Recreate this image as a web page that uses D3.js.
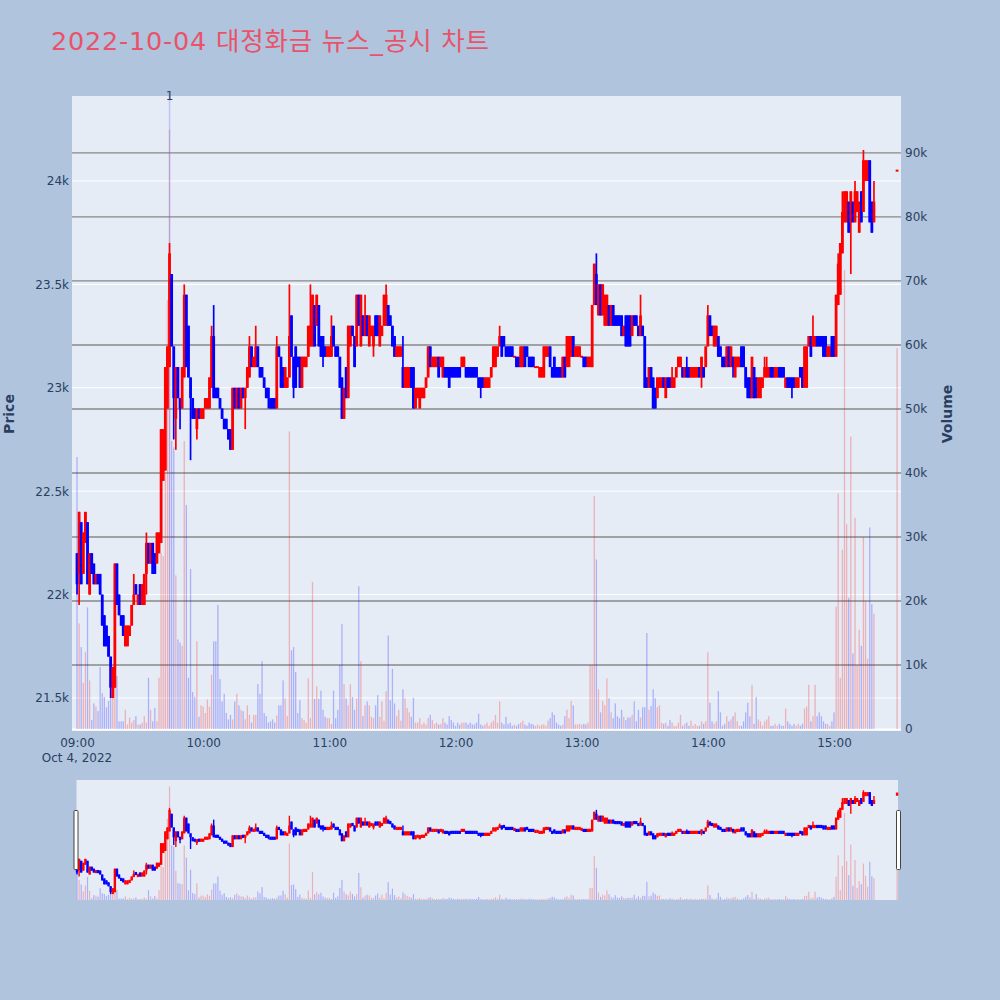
<!DOCTYPE html>
<html><head><meta charset="utf-8">
<script src="https://cdn.jsdelivr.net/npm/d3@7"></script>
<style>body{margin:0;background:#b0c4de;}svg{display:block;}</style>
</head><body>
<svg id="c" width="1000" height="1000"></svg>
<script>
const chartTitle = "2022-10-04 대정화금 뉴스_공시 차트";
const sessionStart = "2022-10-04 09:00";
// one candle per minute from 09:00 (index = minute offset)
const opens = [
22200,22100,22350,22100,22250,22350,22000,22200,22150,22050,
22100,22100,22000,21900,21850,21800,21700,21500,21550,22150,
22000,21900,21900,21750,21750,21800,21850,21950,22050,21950,
22050,21950,21950,22100,22250,22150,22250,22200,22150,22200,
22250,22550,22600,22900,23100,23550,23200,22850,23100,22950,
22900,23050,23450,23300,23050,22950,22900,22800,22900,22850,
22850,22900,22900,22900,23000,23250,23000,23000,22950,22900,
22850,22850,22800,22800,22700,23000,22900,23000,22900,23000,
22950,23000,23050,23200,23100,23100,23200,23100,23100,23050,
23000,23000,22950,22950,22950,22900,23200,23150,23100,23000,
23000,23050,23350,23150,23200,23150,23150,23000,23100,23100,
23150,23200,23200,23400,23300,23400,23250,23250,23200,23150,
23150,23150,23300,23200,23200,23150,23050,22850,23100,22950,
23200,23300,23250,23200,23450,23200,23350,23250,23350,23200,
23250,23200,23350,23350,23200,23250,23300,23300,23400,23350,
23300,23250,23150,23150,23150,23100,23000,23000,23000,23100,
23100,22900,22950,22900,22950,22950,23000,23050,23200,23100,
23100,23100,23150,23100,23050,23100,23100,23100,23100,23100,
23100,23100,23100,23100,23100,23100,23100,23100,23100,23100,
23100,23050,23050,23050,23000,23000,23000,23050,23100,23100,
23150,23200,23250,23250,23200,23200,23200,23200,23150,23150,
23150,23100,23100,23200,23200,23150,23150,23150,23100,23100,
23050,23050,23050,23150,23150,23200,23100,23150,23100,23100,
23100,23050,23150,23100,23100,23150,23250,23150,23150,23150,
23150,23150,23150,23100,23100,23100,23400,23550,23350,23500,
23350,23300,23300,23400,23300,23400,23350,23350,23350,23350,
23250,23350,23350,23350,23250,23350,23350,23300,23250,23300,
23250,23050,23000,23100,23050,23000,22950,23000,23000,23050,
22950,23050,23050,23000,23000,23050,23100,23100,23100,23050,
23100,23100,23050,23050,23050,23050,23100,23050,23100,23100,
23200,23350,23300,23200,23200,23250,23200,23150,23150,23100,
23200,23100,23150,23050,23100,23100,23200,23200,23100,23050,
23050,22950,23100,23050,22950,22950,23000,23050,23050,23050,
23100,23100,23050,23050,23100,23100,23100,23000,23050,23050,
23050,23050,23000,23000,23100,23100,23000,23000,23200,23250,
23200,23200,23250,23250,23250,23250,23250,23150,23150,23250,
23250,23150,23400,23450,23650,23800,23800,23900,23800,23900,
23800,23850,23750,23950,23850,24000,24000,24100,23900,23800];
const closes = [
22050,22400,22050,22300,22400,22050,22200,22100,22050,22100,
22050,22000,21850,21750,21750,21700,21550,21650,22150,21950,
21900,21850,21800,21850,21850,21850,21950,22000,22000,22000,
21950,22050,22100,22250,22150,22250,22100,22100,22300,22300,
22800,22800,23100,23200,23650,23200,22950,23100,22950,22900,
23100,23450,23100,23050,22950,22850,22850,22900,22850,22900,
22900,22950,22950,23050,23250,22950,22950,22950,22900,22850,
22800,22800,22750,22700,23000,22900,23000,22900,23000,22950,
23000,23100,23200,23100,23150,23200,23100,23050,23050,23000,
22950,22950,22900,22900,22900,23200,23150,23000,23000,23100,
23050,23250,23150,23000,23000,23100,23000,23150,23150,23150,
23300,23300,23450,23200,23450,23200,23150,23150,23150,23200,
23200,23250,23200,23150,23150,23000,22850,23000,22950,23300,
23300,23250,23100,23450,23300,23450,23250,23350,23250,23350,
23300,23300,23250,23250,23350,23300,23450,23450,23300,23300,
23200,23150,23200,23200,23200,23000,23100,23100,23100,23000,
22900,23000,23000,23000,23000,23000,23050,23200,23100,23150,
23150,23150,23050,23150,23150,23050,23050,23000,23050,23050,
23050,23050,23050,23150,23150,23050,23050,23050,23050,23050,
23050,23000,23000,23000,23050,23050,23050,23100,23200,23200,
23200,23250,23150,23200,23150,23150,23150,23150,23150,23100,
23100,23200,23200,23100,23150,23100,23100,23100,23100,23100,
23100,23100,23200,23200,23200,23100,23050,23050,23050,23050,
23050,23150,23050,23250,23250,23250,23150,23200,23200,23200,
23150,23100,23100,23150,23150,23400,23600,23400,23500,23350,
23500,23450,23450,23300,23400,23300,23300,23300,23300,23250,
23300,23200,23200,23200,23350,23300,23300,23250,23350,23250,
23000,23000,23100,23000,22900,22900,23050,23050,23050,23000,
23050,23000,23000,23050,23050,23100,23150,23150,23050,23100,
23050,23050,23100,23100,23100,23100,23050,23150,23050,23200,
23350,23250,23250,23300,23300,23150,23150,23100,23100,23200,
23100,23200,23100,23150,23150,23150,23100,23100,23000,22950,
22950,23150,22950,22950,23050,23050,23050,23100,23100,23100,
23050,23050,23100,23100,23050,23050,23050,23050,23000,23000,
23000,23000,23050,23050,23050,23000,23200,23200,23250,23150,
23250,23250,23200,23200,23200,23150,23150,23200,23200,23150,
23150,23450,23600,23700,23850,23950,23950,23750,23950,23800,
23950,23950,23900,23800,24100,24100,24100,23800,23750,23900];
// wicks that reach beyond the body: [minute index, price]
const wickHighs = [[27,22100],[33,22300],[44,23700],[51,23500],[64,23300],[65,23400],[82,23250],[85,23300],
 [95,23250],[101,23500],[111,23500],[121,23350],[137,23450],[147,23500],[155,23250],[201,23300],[247,23650],
 [268,23450],[283,23100],[290,23150],[300,23400],[327,23150],[328,23150],[350,23350],[362,23650],[364,23950],
 [370,24000],[374,24150],[379,24000]];
const wickLows = [[0,22000],[1,21950],[16,21500],[33,22000],[46,22750],[47,22700],[49,22800],[54,22650],[57,22750],
 [80,22800],[91,22900],[103,22950],[117,23100],[141,23150],[192,22950],[297,23000],[312,23050],[340,22950],[368,23550]];
// volume per minute, thousands of shares
const volumesK = [
42.5,16.5,12.8,7.2,12,19,7.6,1.4,4,3.5,
2.8,9.7,5.6,5,3.4,4.4,5,5,10.3,8.3,
1.2,1.2,1.2,3,0.7,1.8,1,1.4,2,0.7,
0.7,1,2,1,8,3,1.2,3.3,1.2,8,
27.5,27,40,67,93.6,45,44,24,14,13.5,
13,45,35,8,25,5.8,5,13.7,1.9,3.7,
3.5,2.5,4.6,3.5,8.5,13.7,13.7,19.4,7.8,4.3,
5.5,2.5,1.5,2.2,1.5,4.3,5.5,3.7,3,2.8,
1.5,3.7,2.2,1,2.2,2.2,7,5.5,10.6,2.5,
2,1,1.2,1.5,1,2.1,3.7,3.7,7.6,4.8,
2,46.5,12.3,12.8,8.9,2.5,4.5,1.7,1.4,1,
7.9,1.7,23,4.7,6.7,4.7,6,3,1.9,1.7,
1.7,0.8,6,1.7,3,10,16.4,7,4.8,3.7,
7,5,3,4.8,22.3,10.6,2,3.7,4.3,3.7,
1.9,1.7,3.7,5.3,1.9,4.3,1.3,5.9,14.6,4.5,
9.4,4,2,3,1.3,6.2,4.8,3.3,2.6,1.9,
4.9,1,1,1.7,0.7,1,0.7,1.7,2.2,1.4,
0.8,1,0.7,0.8,1.7,1,0.7,2,1.4,1,
0.5,1,0.7,1,1,1,0.7,1,0.7,0.7,
1,2.4,0.7,0.5,0.7,1,0.5,1,1.3,2.2,
1,4.3,1,0.7,1.9,0.8,1,0.5,0.7,0.5,
0.8,1,1.3,0.7,0.5,1,0.8,0.7,0.5,0.7,
0.5,0.7,0.7,0.5,1.3,1.7,2.6,2.2,1,0.7,
0.5,0.7,2,3,1.7,4.4,3.7,0.7,0.7,0.8,
0.7,0.8,0.7,1,10,10,36.4,26.5,6.2,2.6,
4.4,3.7,7.9,4.8,2.6,1.7,4,2,1.7,3,
1.9,1.4,1.8,1.8,2.2,4.3,1.2,3,1.8,3.4,
3.4,15,3,3.6,6.2,4.8,3.4,3.7,1,0.8,
1,0.5,1.4,1,0.5,0.5,1,2.2,0.5,0.8,
1,0.5,1.3,0.5,0.8,0.5,0.5,1.2,0.8,1.2,
12,4.1,1.2,0.8,1.2,5.9,2.6,0.5,0.8,2,
1.2,1.5,2,2.6,1.2,0.5,0.5,1.2,2.6,4.1,
2,6.9,0.8,5,1.5,1.2,0.5,1.2,1.5,2,
0.5,0.5,0.8,0.5,0.8,0.5,0.5,3.2,1.2,0.8,
0.5,0.8,0.5,0.8,0.5,0.8,3.2,3.5,6.9,1.2,
2,6.9,2,2.6,2,1.2,0.8,0.8,0.5,1.2,
2.6,19.1,36.8,8,28,71.7,32,20.5,45.7,11.8,
33,10,15.5,13,30,20,11,31.5,19.5,18];
// closing single-price auction
const auctionTime = "2022-10-04 15:30";
const auctionPrice = 24050;
const auctionVolumeK = 59.5;
// news / disclosure markers
const newsTimes = ["2022-10-04 09:44"];
const newsLabels = ["1"];
// axes
const priceTicks = [21500,22000,22500,23000,23500,24000];
const volumeTicks = [0,10000,20000,30000,40000,50000,60000,70000,80000,90000];
const hourTicks = ["09:00","10:00","11:00","12:00","13:00","14:00","15:00"];
const dateLabel = "Oct 4, 2022";
const priceRange = [21350, 24411];
const volumeRange = [0, 98900];
const timeRange = ["2022-10-04 08:57:37", "2022-10-04 15:31:52"];

// ---------------------------------------------------------------
const parse = d3.timeParse("%Y-%m-%d %H:%M");
const parseS = d3.timeParse("%Y-%m-%d %H:%M:%S");
const t0 = parse(sessionStart);
const candles = opens.map((o, i) => ({
  t: d3.timeMinute.offset(t0, i), o, c: closes[i],
  h: Math.max(o, closes[i]), l: Math.min(o, closes[i]), v: volumesK[i] * 1000
}));
wickHighs.forEach(([i, p]) => candles[i].h = Math.max(candles[i].h, p));
wickLows.forEach(([i, p]) => candles[i].l = Math.min(candles[i].l, p));
const auction = {t: parse(auctionTime), o: auctionPrice, c: auctionPrice, h: auctionPrice, l: auctionPrice, v: auctionVolumeK * 1000};
const allBars = candles.concat([auction]);

const P = {l: 72, r: 901, t: 96, b: 729};
const S = {l: 76.5, r: 898, t: 780, b: 900};
const FONT = "'DejaVu Sans', Verdana, sans-serif";
const TXT = "#2a3f5f";
const UP = "#ff0000", DN = "#0000ff";

const x = d3.scaleTime().domain(timeRange.map(s => parseS(s))).range([P.l, P.r]);
const yP = d3.scaleLinear().domain(priceRange).range([P.b, P.t]);
const yV = d3.scaleLinear().domain(volumeRange).range([P.b, P.t]);
const ySP = d3.scaleLinear().domain(priceRange).range([S.b, S.t]);
const ySV = d3.scaleLinear().domain(volumeRange).range([S.b, S.t]);

const svg = d3.select("#c");
svg.append("rect").attr("width", 1000).attr("height", 1000).attr("fill", "#b0c4de");

// title
svg.append("text").attr("x", 51).attr("y", 50).attr("fill", "#e9536a")
  .style("font-family", FONT + ",'Noto Sans CJK KR'").style("font-size", "25.5px")
  .attr("textLength", 438).attr("lengthAdjust", "spacing").text(chartTitle);

// plot background
svg.append("rect").attr("x", P.l).attr("y", P.t).attr("width", P.r - P.l).attr("height", P.b - P.t + 2).attr("fill", "#e5ecf6");

// price gridlines (white)
svg.append("g").selectAll("line").data(priceTicks).join("line")
  .attr("x1", P.l).attr("x2", P.r).attr("y1", d => yP(d)).attr("y2", d => yP(d))
  .attr("stroke", "#ffffff").attr("stroke-width", 1);
// volume gridlines (gray)
svg.append("g").selectAll("line").data(volumeTicks.filter(v => v > 0)).join("line")
  .attr("x1", P.l).attr("x2", P.r).attr("y1", d => yV(d)).attr("y2", d => yV(d))
  .attr("stroke", "#888888").attr("stroke-width", 1.3);
svg.append("line").attr("x1", P.l).attr("x2", P.r).attr("y1", yV(0) + 0.5).attr("y2", yV(0) + 0.5)
  .attr("stroke", "#ffffff").attr("stroke-width", 2);

function drawVolume(g, ys, w) {
  g.selectAll("rect").data(allBars).join("rect")
    .attr("x", d => x(d.t) - w / 2).attr("width", w)
    .attr("y", d => Math.max(ys(d.v), ys.range()[1])).attr("height", d => ys(0) - Math.max(ys(d.v), ys.range()[1]))
    .attr("fill", d => d.c >= d.o ? UP : DN).attr("fill-opacity", 0.25);
}
function drawCandles(g, ys, bw, minH, ww) {
  const gs = g.selectAll("g").data(allBars).join("g");
  gs.append("line").attr("x1", d => x(d.t)).attr("x2", d => x(d.t))
    .attr("y1", d => ys(d.h)).attr("y2", d => ys(d.l))
    .attr("stroke", d => d.c >= d.o ? UP : DN).attr("stroke-width", ww);
  gs.append("rect")
    .attr("x", d => x(d.t) - bw / 2).attr("width", bw)
    .attr("y", d => { const a = ys(Math.max(d.o, d.c)), b = ys(Math.min(d.o, d.c)); return Math.min(a, (a + b) / 2 - minH / 2); })
    .attr("height", d => { const a = ys(Math.max(d.o, d.c)), b = ys(Math.min(d.o, d.c)); return Math.max(b - a, minH); })
    .attr("fill", d => d.c >= d.o ? UP : DN);
}

// volume bars
drawVolume(svg.append("g"), yV, 1.3);
// news markers
const news = svg.append("g");
newsTimes.forEach((s, i) => {
  const xx = x(parse(s));
  news.append("line").attr("x1", xx).attr("x2", xx).attr("y1", P.t - 3).attr("y2", P.b)
    .attr("stroke", "#6f7dff").attr("stroke-opacity", 0.35).attr("stroke-width", 1.5);
  news.append("text").attr("x", xx).attr("y", P.t + 4).attr("text-anchor", "middle")
    .style("font-family", FONT).style("font-size", "12px").attr("fill", TXT).text(newsLabels[i]);
});
// candles
drawCandles(svg.append("g"), yP, 2.8, 2, 1.7);

// axes
function styleAxis(g) {
  g.select(".domain").remove();
  g.selectAll("text").style("font-family", FONT).style("font-size", "12px").attr("fill", TXT);
}
svg.append("g").attr("transform", `translate(${P.l},0)`)
  .call(d3.axisLeft(yP).tickValues(priceTicks).tickFormat(d3.format("~s")).tickSize(0).tickPadding(3))
  .call(styleAxis);
svg.append("g").attr("transform", `translate(${P.r},0)`)
  .call(d3.axisRight(yV).tickValues(volumeTicks).tickFormat(d3.format("~s")).tickSize(0).tickPadding(4))
  .call(styleAxis);
const hourDates = hourTicks.map(h => parse("2022-10-04 " + h));
svg.append("g").attr("transform", `translate(0,${P.b})`)
  .call(d3.axisBottom(x).tickValues(hourDates).tickFormat(d3.timeFormat("%H:%M")).tickSize(0).tickPadding(9.5))
  .call(styleAxis);
svg.append("text").attr("x", x(hourDates[0])).attr("y", 762).attr("text-anchor", "middle")
  .style("font-family", FONT).style("font-size", "12px").attr("fill", TXT).text(dateLabel);

// axis titles
svg.append("text").attr("transform", "translate(14,414) rotate(-90)").attr("text-anchor", "middle")
  .style("font-family", FONT).style("font-size", "14px").style("font-weight", "bold").attr("fill", TXT).text("Price");
svg.append("text").attr("transform", "translate(952,414) rotate(-90)").attr("text-anchor", "middle")
  .style("font-family", FONT).style("font-size", "14px").style("font-weight", "bold").attr("fill", TXT).text("Volume");

// range slider
svg.append("rect").attr("x", S.l).attr("y", S.t).attr("width", S.r - S.l).attr("height", S.b - S.t).attr("fill", "#e5ecf6");
drawVolume(svg.append("g"), ySV, 1.2);
drawCandles(svg.append("g"), ySP, 2.4, 3.2, 1.4);
[S.l - 2.5, S.r - 1.5].forEach(hx => {
  svg.append("rect").attr("x", hx).attr("y", 810.5).attr("width", 4).attr("height", 59)
    .attr("fill", "#ffffff").attr("stroke", "#444").attr("stroke-width", 1).attr("rx", 1);
});
</script>
</body></html>
